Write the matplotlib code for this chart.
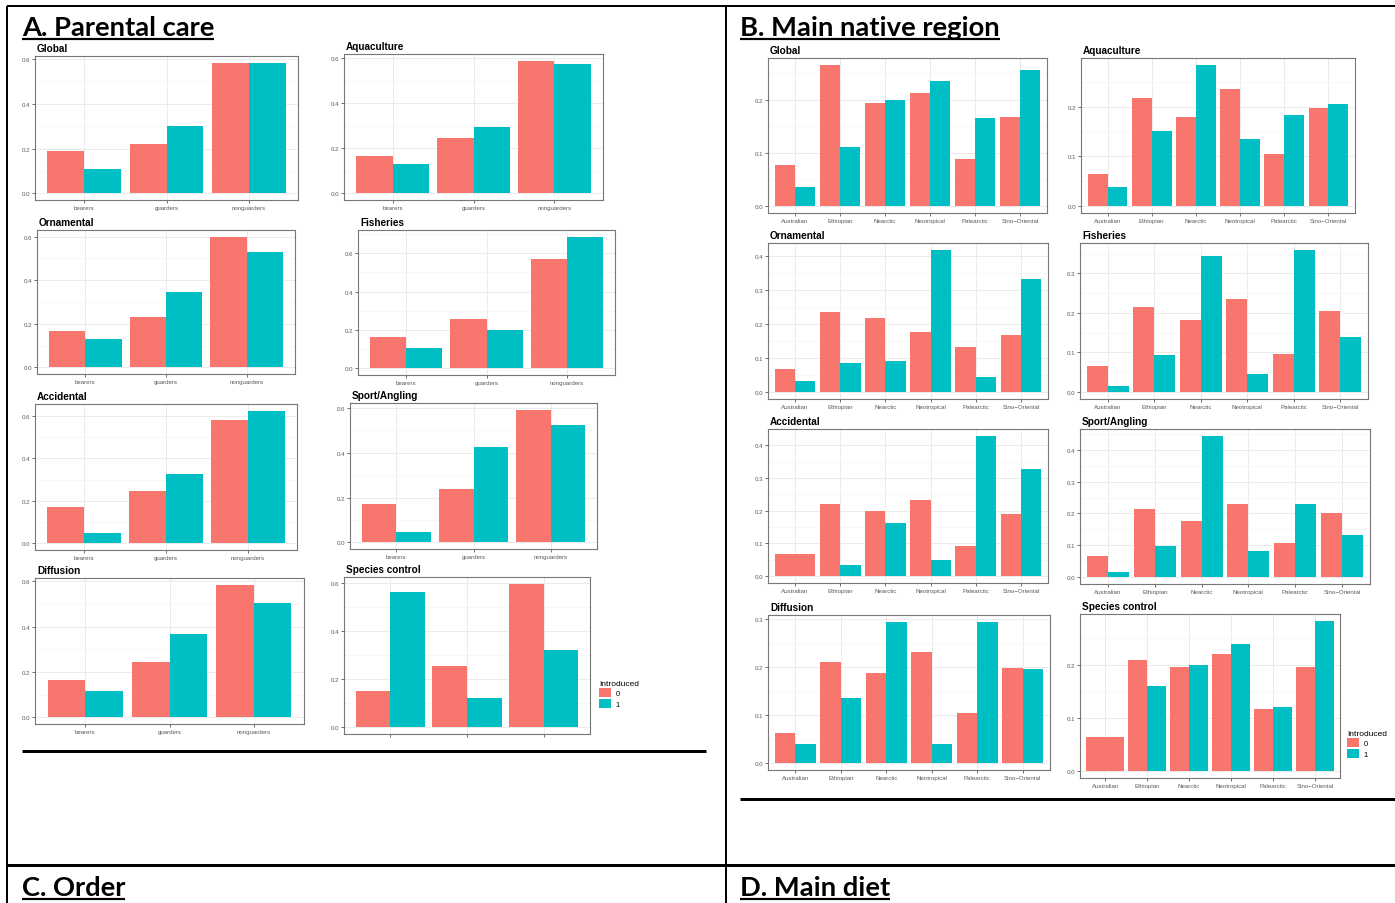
import matplotlib
matplotlib.use('Agg')
import matplotlib.pyplot as plt
from matplotlib import font_manager as fm
from matplotlib.patches import Patch
from matplotlib.ticker import MultipleLocator, FormatStrFormatter
import numpy as np

# ---------------- data ----------------
care_cats = ['bearers', 'guarders', 'nonguarders']
care_global_0 = [0.189, 0.222, 0.580]
care_global_1 = [0.111, 0.299, 0.584]
care_aqua_0 = [0.166, 0.244, 0.590]
care_aqua_1 = [0.132, 0.293, 0.575]
care_orna_0 = [0.169, 0.232, 0.600]
care_orna_1 = [0.129, 0.345, 0.529]
care_fish_0 = [0.166, 0.255, 0.571]
care_fish_1 = [0.108, 0.202, 0.686]
care_acc_0 = [0.170, 0.247, 0.582]
care_acc_1 = [0.048, 0.328, 0.624]
care_sport_0 = [0.172, 0.239, 0.593]
care_sport_1 = [0.047, 0.428, 0.526]
care_diff_0 = [0.164, 0.243, 0.586]
care_diff_1 = [0.117, 0.369, 0.507]
care_ctrl_0 = [0.149, 0.255, 0.594]
care_ctrl_1 = [0.561, 0.120, 0.320]

region_cats = ['Australian', 'Ethiopian', 'Nearctic', 'Neotropical', 'Palearctic', 'Sino\u2212Oriental']
reg_global_0 = [0.077, 0.265, 0.194, 0.212, 0.088, 0.167]
reg_global_1 = [0.036, 0.111, 0.199, 0.235, 0.166, 0.255]
reg_aqua_0 = [0.065, 0.218, 0.180, 0.236, 0.104, 0.197]
reg_aqua_1 = [0.039, 0.151, 0.284, 0.135, 0.183, 0.206]
reg_orna_0 = [0.068, 0.234, 0.218, 0.175, 0.131, 0.168]
reg_orna_1 = [0.032, 0.085, 0.091, 0.416, 0.045, 0.331]
reg_fish_0 = [0.065, 0.216, 0.182, 0.234, 0.096, 0.204]
reg_fish_1 = [0.014, 0.093, 0.344, 0.046, 0.359, 0.140]
reg_acc_0 = [0.067, 0.221, 0.198, 0.233, 0.093, 0.189]
reg_acc_1 = [None, 0.033, 0.163, 0.050, 0.428, 0.328]
reg_sport_0 = [0.065, 0.215, 0.176, 0.230, 0.108, 0.203]
reg_sport_1 = [0.017, 0.098, 0.444, 0.081, 0.229, 0.131]
reg_diff_0 = [0.062, 0.211, 0.188, 0.231, 0.105, 0.199]
reg_diff_1 = [0.039, 0.136, 0.294, 0.039, 0.294, 0.195]
reg_ctrl_0 = [0.063, 0.209, 0.196, 0.220, 0.116, 0.196]
reg_ctrl_1 = [None, 0.160, 0.200, 0.240, 0.121, 0.282]

legend_title = 'Introduced'
legend_labels = ['0', '1']
headers = ['A. Parental care', 'B. Main native region', 'C. Order', 'D. Main diet']

# ---------------- style ----------------
RED = '#F8766D'
TEAL = '#00BFC4'
W, H = 1395, 904
fonts = fm.fontManager.ttflist
available = {f.name for f in fonts}
BASE_FONT = 'Liberation Sans' if 'Liberation Sans' in available else 'DejaVu Sans'
HEAD_FONT = 'Lato' if 'Lato' in available else BASE_FONT

plt.rcParams['font.family'] = [BASE_FONT, 'DejaVu Sans']

fig = plt.figure(figsize=(W / 100, H / 100), dpi=100)
ov = fig.add_axes([0, 0, 1, 1])
ov.set_xlim(0, W)
ov.set_ylim(H, 0)
ov.axis('off')

px = 72 / 100  # points per pixel
# frame lines
ov.plot([7, W], [7, 7], color='black', lw=2 * px, solid_capstyle='butt')
ov.plot([7, 7], [7, H], color='black', lw=2 * px, solid_capstyle='butt')
ov.plot([726, 726], [7, H], color='black', lw=2 * px, solid_capstyle='butt')
ov.plot([7, W], [866, 866], color='black', lw=3 * px, solid_capstyle='butt')
ov.plot([22, 706], [752, 752], color='black', lw=3 * px, solid_capstyle='butt')
ov.plot([740, W], [800, 800], color='black', lw=3 * px, solid_capstyle='butt')

# headers with underline
head_pos = [(22, 36), (740, 36), (22, 896), (740, 896)]
probe = ov.text(0, 0, headers[0], fontsize=20, fontweight='bold', family=HEAD_FONT)
fig.canvas.draw()
wprobe = probe.get_window_extent().width
probe.remove()
head_size = 20 * 193 / wprobe
head_texts = []
for (hx, hy), s in zip(head_pos, headers):
    t = ov.text(hx, hy, s, fontsize=head_size, fontweight='bold',
                va='baseline', ha='left', family=HEAD_FONT)
    head_texts.append(t)
fig.canvas.draw()
for (hx, hy), t in zip(head_pos, head_texts):
    wt = t.get_window_extent().width
    ov.plot([hx, hx + wt], [hy + 4, hy + 4], color='black', lw=2.2 * px, solid_capstyle='butt')


def draw_panel(box, title, cats, v0, v1, ystep, show_xlabels=True):
    x0, y0, x1, y1 = box
    ax = fig.add_axes([x0 / W, 1 - y1 / H, (x1 - x0) / W, (y1 - y0) / H])
    n = len(cats)
    xs = np.arange(1, n + 1)
    for i in range(n):
        a, b = v0[i], v1[i]
        if b is None:
            ax.bar(xs[i], a, width=0.9, color=RED, zorder=2)
        else:
            ax.bar(xs[i] - 0.225, a, width=0.45, color=RED, zorder=2)
            ax.bar(xs[i] + 0.225, b, width=0.45, color=TEAL, zorder=2)
    top = max(v for v in list(v0) + list(v1) if v is not None)
    ax.set_ylim(-0.05 * top, 1.05 * top)
    ax.set_xlim(0.4, n + 0.6)
    ax.yaxis.set_major_locator(MultipleLocator(ystep))
    ax.yaxis.set_minor_locator(MultipleLocator(ystep / 2))
    ax.yaxis.set_major_formatter(FormatStrFormatter('%.1f'))
    ax.set_xticks(xs)
    ax.set_xticklabels(cats if show_xlabels else [''] * n)
    ax.grid(True, which='major', color='#EBEBEB', lw=0.7, zorder=0)
    ax.grid(True, which='minor', axis='y', color='#F2F2F2', lw=0.4, zorder=0)
    ax.set_axisbelow(True)
    ax.tick_params(which='major', length=2, width=0.5, color='#333333',
                   labelsize=4.4, labelcolor='#5a5a5a', pad=1.5)
    ax.tick_params(which='minor', length=0)
    for sp in ax.spines.values():
        sp.set_color('#777777')
        sp.set_linewidth(0.8)
    ax.set_facecolor('white')
    ov.text(x0 + 2, y0 - 3, title, fontsize=7.2, fontweight='bold', va='bottom', ha='left')
    return ax


# Panel A
draw_panel((35, 57, 298, 201), 'Global', care_cats, care_global_0, care_global_1, 0.2)
draw_panel((344, 55, 603, 201), 'Aquaculture', care_cats, care_aqua_0, care_aqua_1, 0.2)
draw_panel((37, 231, 295, 375), 'Ornamental', care_cats, care_orna_0, care_orna_1, 0.2)
draw_panel((358, 231, 615, 376), 'Fisheries', care_cats, care_fish_0, care_fish_1, 0.2)
draw_panel((35, 405, 297, 551), 'Accidental', care_cats, care_acc_0, care_acc_1, 0.2)
draw_panel((350, 404, 597, 550), 'Sport/Angling', care_cats, care_sport_0, care_sport_1, 0.2)
draw_panel((35, 579, 304, 725), 'Diffusion', care_cats, care_diff_0, care_diff_1, 0.2)
draw_panel((344, 578, 590, 735), 'Species control', care_cats, care_ctrl_0, care_ctrl_1, 0.2,
           show_xlabels=False)

# Panel B
draw_panel((768, 59, 1047, 214), 'Global', region_cats, reg_global_0, reg_global_1, 0.1)
draw_panel((1081, 59, 1355, 214), 'Aquaculture', region_cats, reg_aqua_0, reg_aqua_1, 0.1)
draw_panel((768, 244, 1048, 400), 'Ornamental', region_cats, reg_orna_0, reg_orna_1, 0.1)
draw_panel((1080, 244, 1368, 400), 'Fisheries', region_cats, reg_fish_0, reg_fish_1, 0.1)
draw_panel((768, 430, 1048, 584), 'Accidental', region_cats, reg_acc_0, reg_acc_1, 0.1)
draw_panel((1080, 430, 1370, 585), 'Sport/Angling', region_cats, reg_sport_0, reg_sport_1, 0.1)
draw_panel((768, 616, 1050, 771), 'Diffusion', region_cats, reg_diff_0, reg_diff_1, 0.1)
draw_panel((1080, 615, 1340, 779), 'Species control', region_cats, reg_ctrl_0, reg_ctrl_1, 0.1)

handles = [Patch(facecolor=RED), Patch(facecolor=TEAL)]
for lx, ly in [(599, 681), (1347, 731)]:
    fig.legend(handles, legend_labels, title=legend_title, loc='upper left',
               bbox_to_anchor=(lx / W, 1 - ly / H), frameon=False, fontsize=5.5,
               title_fontsize=6, handlelength=1.6, handleheight=1.5,
               borderpad=0, borderaxespad=0, handletextpad=0.6, labelspacing=0.15,
               alignment='left')

fig.savefig('out.png', dpi=100)
